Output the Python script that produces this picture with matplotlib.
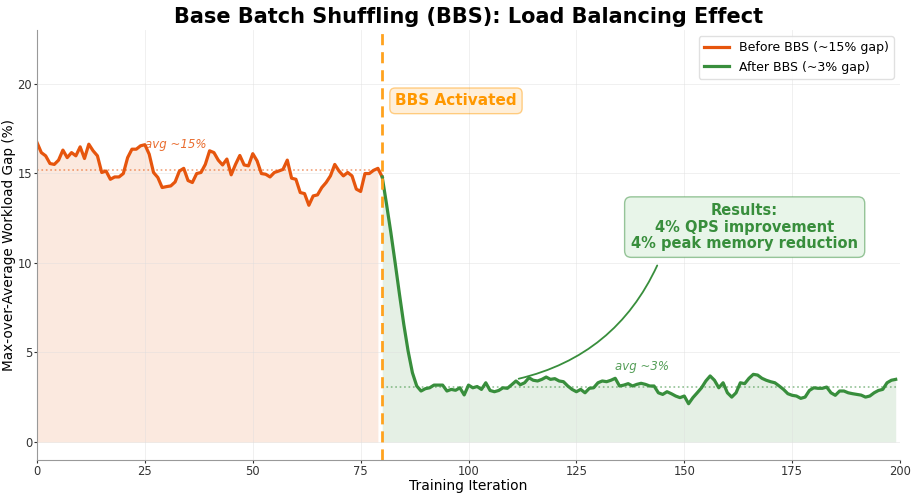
import numpy as np
import matplotlib
matplotlib.use("Agg")
from matplotlib import pyplot as plt

# workload gap before BBS (iterations 0..80)
before_gap = [
    16.72, 16.16, 15.98, 15.55, 15.50, 15.74, 16.30, 15.88, 16.16, 15.98,
    16.48, 15.83, 16.63, 16.26, 15.98, 15.05, 15.13, 14.67, 14.80, 14.80,
    14.99, 15.88, 16.35, 16.35, 16.54, 16.60, 16.07, 15.05, 14.77, 14.21,
    14.26, 14.30, 14.52, 15.13, 15.28, 14.60, 14.49, 14.99, 15.05, 15.50,
    16.26, 16.16, 15.74, 15.47, 15.80, 14.92, 15.50, 16.00, 15.47, 15.42,
    16.10, 15.70, 14.99, 14.95, 14.80, 15.05, 15.13, 15.22, 15.74, 14.73,
    14.67, 13.93, 13.87, 13.22, 13.74, 13.80, 14.21, 14.49, 14.86, 15.50,
    15.13, 14.86, 15.05, 14.86, 14.12, 13.99, 14.99, 14.99, 15.17, 15.28,
    14.80,
]

# workload gap after BBS (iterations 80..199)
after_gap = [
    14.80, 13.28, 11.70, 10.00, 8.25, 6.57, 5.08, 3.87, 3.13, 2.85,
    2.98, 3.03, 3.18, 3.18, 3.18, 2.85, 2.94, 2.89, 3.03, 2.63,
    3.18, 3.03, 3.10, 2.94, 3.31, 2.88, 2.81, 2.88, 3.03, 3.00,
    3.20, 3.41, 3.20, 3.31, 3.59, 3.45, 3.41, 3.50, 3.63, 3.50,
    3.54, 3.41, 3.37, 3.13, 2.94, 2.81, 2.94, 2.75, 3.00, 3.03,
    3.31, 3.41, 3.37, 3.45, 3.56, 3.13, 3.18, 3.26, 3.13, 3.22,
    3.28, 3.22, 3.13, 3.13, 2.75, 2.66, 2.81, 2.70, 2.57, 2.48,
    2.57, 2.14, 2.48, 2.75, 3.03, 3.41, 3.69, 3.45, 3.03, 3.31,
    2.75, 2.51, 2.75, 3.31, 3.26, 3.56, 3.78, 3.74, 3.56, 3.45,
    3.37, 3.31, 3.13, 2.94, 2.70, 2.61, 2.57, 2.44, 2.51, 2.88,
    3.03, 3.00, 3.00, 3.07, 2.75, 2.61, 2.85, 2.85, 2.75, 2.70,
    2.66, 2.62, 2.51, 2.57, 2.75, 2.88, 2.94, 3.31, 3.45, 3.50,
]

before_avg = 15.2
after_avg = 3.05
switch_iter = 80

ORANGE = "#e6550d"
GREEN = "#388e3c"
VLINE = "#ffa21e"

before_x = np.arange(len(before_gap))
after_x = np.arange(switch_iter, switch_iter + len(after_gap))

fig, ax = plt.subplots(figsize=(9.14, 4.93), dpi=100)
fig.subplots_adjust(left=0.0405, right=0.9847, top=0.939, bottom=0.067)

ax.fill_between(before_x[:switch_iter], before_gap[:switch_iter], 0,
                color=ORANGE, alpha=0.13, linewidth=0)
ax.fill_between(after_x, after_gap, 0, color=GREEN, alpha=0.13, linewidth=0)

ax.plot(before_x, before_gap, color=ORANGE, lw=2.3, label="Before BBS (~15% gap)")
ax.plot(after_x, after_gap, color=GREEN, lw=2.3, label="After BBS (~3% gap)")

ax.hlines(before_avg, 0, switch_iter, colors=ORANGE, linestyles=":", lw=1.2, alpha=0.55)
ax.hlines(after_avg, switch_iter, after_x[-1], colors=GREEN, linestyles=":", lw=1.2, alpha=0.55)
ax.text(25, before_avg + 1.4, "avg ~15%", color=ORANGE, fontsize=8.5,
        style="italic", alpha=0.85, va="center")
ax.text(134, after_avg + 1.15, "avg ~3%", color=GREEN, fontsize=8.5,
        style="italic", alpha=0.85, va="center")

ax.axvline(switch_iter, color=VLINE, ls="--", lw=2.0, dashes=(4, 2.5))
ax.text(83, 19.05, "BBS Activated", color="#ff9800", fontsize=11,
        fontweight="bold", ha="left", va="center",
        bbox=dict(boxstyle="round,pad=0.35", facecolor=(1, 0.6, 0, 0.15),
                  edgecolor=(1, 0.6, 0, 0.45)))

ax.text(164, 12.0, "Results:\n4% QPS improvement\n4% peak memory reduction",
        color=GREEN, fontsize=10.5, fontweight="bold", ha="center", va="center",
        multialignment="center", linespacing=1.1,
        bbox=dict(boxstyle="round,pad=0.45", facecolor="#e8f5e9",
                  edgecolor=(0.22, 0.56, 0.24, 0.5)))
ax.annotate("", xy=(111, 3.5), xytext=(144, 10.0),
            arrowprops=dict(arrowstyle="-", color=GREEN, lw=1.3,
                            connectionstyle="arc3,rad=-0.25"))

ax.set_xlim(0, 200)
ax.set_ylim(-1, 23)
ax.set_xticks([0, 25, 50, 75, 100, 125, 150, 175, 200])
ax.set_yticks([0, 5, 10, 15, 20])
ax.tick_params(labelsize=8.3, colors="#333333", length=2, pad=1.5)
ax.grid(True, color="#dddddd", alpha=0.5, lw=0.6)
for side in ("top", "right"):
    ax.spines[side].set_visible(False)
for side in ("left", "bottom"):
    ax.spines[side].set_color("#999999")

ax.set_xlabel("Training Iteration", fontsize=10, labelpad=1)
ax.set_ylabel("Max-over-Average Workload Gap (%)", fontsize=9.8, labelpad=1)
ax.set_title("Base Batch Shuffling (BBS): Load Balancing Effect",
             fontsize=15, fontweight="bold", pad=5)
ax.legend(loc="upper right", fontsize=9, framealpha=0.9, edgecolor="#dddddd")

fig.savefig("out.png", dpi=100)
